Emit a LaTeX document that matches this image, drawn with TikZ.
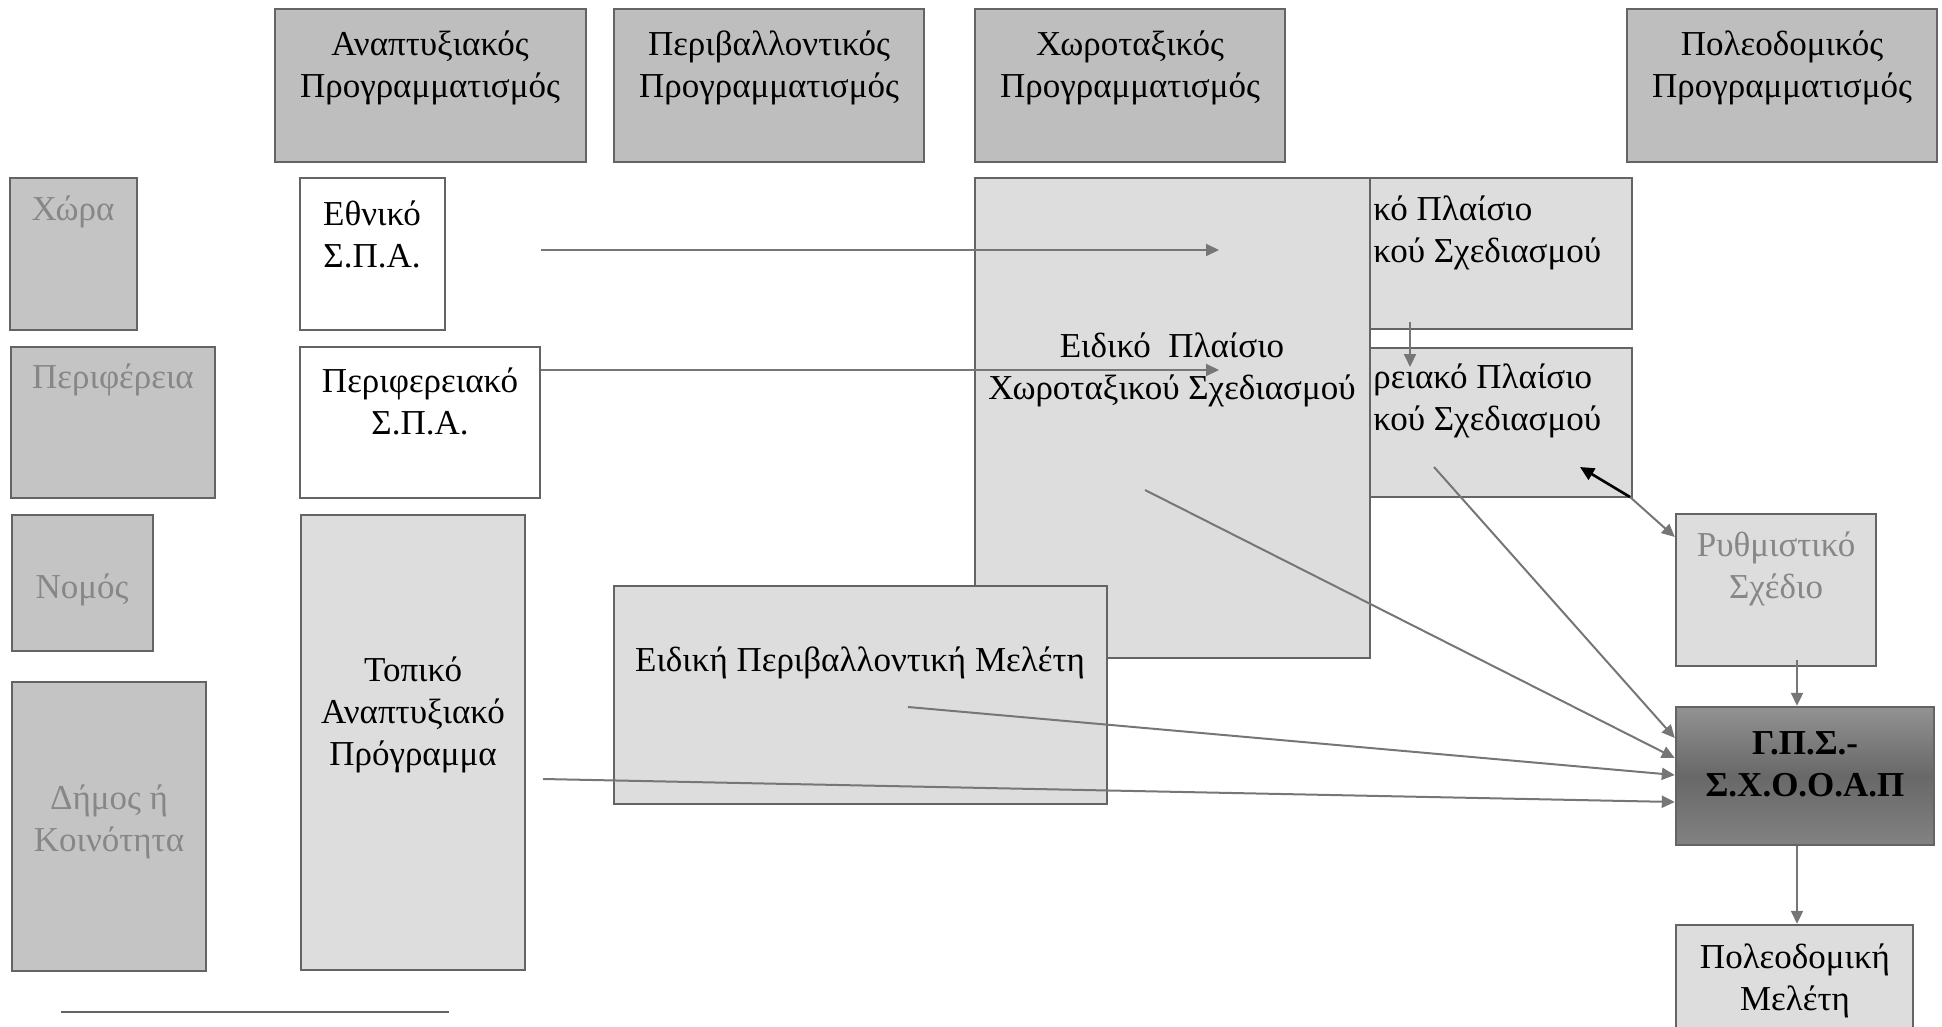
\documentclass[tikz,border=0pt]{standalone}
\usepackage{fontspec}
\setmainfont{Liberation Serif}
\usetikzlibrary{fit,arrows.meta}

\definecolor{hdrgray}{RGB}{190,190,190}
\definecolor{lvlgray}{RGB}{196,196,196}
\definecolor{plangray}{RGB}{221,221,221}
\definecolor{edgegray}{RGB}{100,100,100}
\definecolor{arrowgray}{RGB}{118,118,118}
\definecolor{lvltext}{RGB}{135,135,135}
\definecolor{gpstop}{RGB}{146,146,146}
\definecolor{gpsmid}{RGB}{104,104,104}
\definecolor{gpsbot}{RGB}{130,130,130}

\begin{document}
\begin{tikzpicture}[x=0.5pt, y=-0.5pt,
		box/.style={draw=edgegray, line width=1.2pt, inner sep=0pt},
		hdr/.style={box, fill=hdrgray},
		lvl/.style={box, fill=lvlgray},
		plan/.style={box, fill=plangray},
		spa/.style={box, fill=white},
		txt/.style={align=center, inner sep=0pt, font=\fontsize{17.5}{21}\selectfont},
		cuttxt/.style={txt, align=left, anchor=west},
		lvltxt/.style={txt, text=lvltext},
		conn/.style={draw=arrowgray, line width=1pt, -{Triangle[length=6.5pt,width=6pt]}}]
				\useasboundingbox (0,0) rectangle (1942,1027);
				% kind of planning
				\node[hdr, fit={(275,9) (586,162)}] (hA) {};
				\node[txt] (hA-t) at (430,68) {Αναπτυξιακός\\Προγραμματισμός};
				\node[hdr, fit={(614,9) (924,162)}] (hP) {};
				\node[txt] (hP-t) at (769,68) {Περιβαλλοντικός\\Προγραμματισμός};
				\node[hdr, fit={(975,9) (1285,162)}] (hX) {};
				\node[txt] (hX-t) at (1130,68) {Χωροταξικός\\Προγραμματισμός};
				\node[hdr, fit={(1627,9) (1937,162)}] (hPo) {};
				\node[txt] (hPo-t) at (1782,68) {Πολεοδομικός\\Προγραμματισμός};
				% levels
				\node[lvl, fit={(10,178) (137,330)}] (xora) {};
				\node[lvltxt] (xora-t) at (73,212) {Χώρα};
				\node[lvl, fit={(11,347) (215,498)}] (perif) {};
				\node[lvltxt] (perif-t) at (113,380) {Περιφέρεια};
				\node[lvl, fit={(12,515) (153,651)}] (nomos) {};
				\node[lvltxt] (nomos-t) at (82,590) {Νομός};
				\node[lvl, fit={(12,682) (206,971)}] (dimos) {};
				\node[lvltxt] (dimos-t) at (109,822) {Δήμος ή\\Κοινότητα};
				% development plans
				\node[spa, fit={(300,178) (445,330)}] (ethspa) {};
				\node[txt] (ethspa-t) at (372,234) {Εθνικό\\Σ.Π.Α.};
				\node[spa, fit={(300,347) (540,498)}] (perspa) {};
				\node[txt] (perspa-t) at (420,401) {Περιφερειακό\\Σ.Π.Α.};
				\node[plan, fit={(301,515) (525,970)}] (topiko) {};
				\node[txt] (topiko-t) at (413,715) {Τοπικό\\Αναπτυξιακό\\Πρόγραμμα};
				% spatial frameworks (partly hidden by eidpl)
				\node[plan, fit={(1212,178) (1632,329)}] (genpl) {};
				\node[cuttxt] (genpl-t) at (1373,233) {κό Πλαίσιο\\κού Σχεδιασμού};
				\node[plan, fit={(1212,348) (1632,497)}] (perpl) {};
				\node[cuttxt] (perpl-t) at (1373,401) {ρειακό Πλαίσιο\\κού Σχεδιασμού};
				\node[plan, fit={(975,178) (1370,658)}] (eidpl) {};
				\node[txt] (eidpl-t) at (1172,370) {Ειδικό\ \ Πλαίσιο\\Χωροταξικού Σχεδιασμού};
				\node[plan, fit={(614,586) (1107,804)}] (emp) {};
				\node[txt] (emp-t) at (860,663) {Ειδική Περιβαλλοντική Μελέτη};
				% urban planning
				\node[plan, fit={(1676,514) (1876,666)}] (ruthm) {};
				\node[lvltxt] (ruthm-t) at (1776,569) {Ρυθμιστικό\\Σχέδιο};
				\node[box, top color=gpstop, bottom color=gpsbot, middle color=gpsmid, fit={(1676,707) (1934,845)}] (gps) {};
				\node[txt, font=\fontsize{17.5}{21}\selectfont\bfseries] (gps-t) at (1805,764) {Γ.Π.Σ.-\\Σ.Χ.Ο.Ο.Α.Π};
				\node[plan, fit={(1676,925) (1913,1090)}] (poleod) {};
				\node[txt] (poleod-t) at (1795,981) {Πολεοδομική\\Μελέτη};
				% footnote rule
				\draw[edgegray, line width=0.9pt] (61,1012) -- (449,1012);
				% connectors
				\coordinate (ethOut) at (541,250);
				\coordinate (ethIn) at (1219,250);
				\coordinate (perOut) at (541,370);
				\coordinate (perIn) at (1219,370);
				\coordinate (genOut) at (1410,322);
				\coordinate (genIn) at (1410,367);
				\coordinate (eidOut) at (1145,490);
				\coordinate (perplOut) at (1434,467);
				\coordinate (empOut) at (908,707);
				\coordinate (topOut) at (543,779);
				\coordinate (ruthmOut) at (1797,660);
				\coordinate (ruthmMid) at (1630,497);
				\coordinate (ruthmTip) at (1580,467);
				\draw[conn] (ethOut) -- (ethIn);
				\draw[conn] (perOut) -- (perIn);
				\draw[conn] (genOut) -- (genIn);
				\draw[conn] (ruthmMid) -- (ruthm.west |- 0,537);
				\draw[black, line width=1.3pt, -{Triangle[length=7pt,width=6.5pt]}] (ruthmMid) -- (ruthmTip);
				\draw[conn] (perplOut) -- (gps.west |- 0,738);
				\draw[conn] (eidOut) -- (gps.west |- 0,758);
				\draw[conn] (empOut) -- (gps.west |- 0,775);
				\draw[conn] (topOut) -- (gps.west |- 0,802);
				\draw[conn] (ruthmOut) -- (gps.north -| 1797,0);
				\draw[conn] (gps.south -| 1797,0) -- (poleod.north -| 1797,0);
\end{tikzpicture}
\end{document}
